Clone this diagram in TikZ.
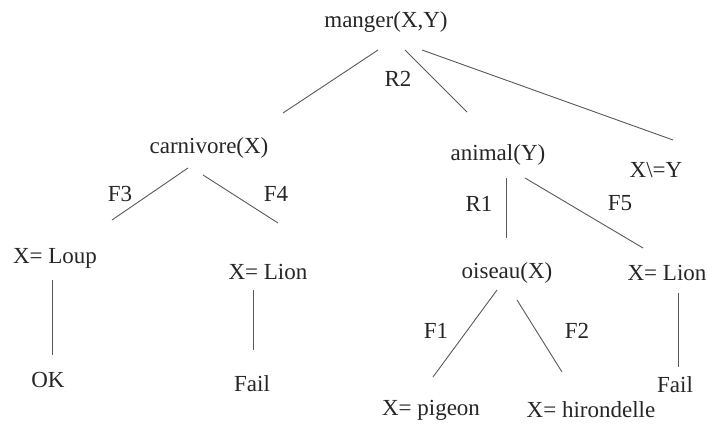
\documentclass[tikz,border=0pt]{standalone}
\usepackage{fontspec}
\setmainfont{Liberation Serif}
\usetikzlibrary{calc}
\begin{document}
\begin{tikzpicture}[x=1pt,y=-1pt,
  lbl/.style={inner sep=0pt,text=black!85,font=\fontsize{23}{26}\selectfont},
  edge/.style={draw=black!65,line width=0.9pt}]
\useasboundingbox[fill=white] (0,0) rectangle (707,427);
% nodes
\node[lbl] (manger) at (386,22) {manger(X,Y)};
\node[lbl] (R2) at (398,79) {R2};
\node[lbl] (carnivore) at (209,148) {carnivore(X)};
\node[lbl] (animal) at (498,155) {animal(Y)};
\node[lbl] (neq) at (656,170) {X\textbackslash=Y};
\node[lbl] (F3) at (120,194) {F3};
\node[lbl] (F4) at (276,194) {F4};
\node[lbl] (loup) at (55,258) {X= Loup};
\node[lbl] (lionL) at (268,272) {X= Lion};
\node[lbl] (ok) at (48,380) {OK};
\node[lbl] (failL) at (252,384) {Fail};
\node[lbl] (R1) at (479,204) {R1};
\node[lbl] (F5) at (620,203) {F5};
\node[lbl] (oiseau) at (507,273) {oiseau(X)};
\node[lbl] (lionR) at (667,273) {X= Lion};
\node[lbl] (F1) at (436,331) {F1};
\node[lbl] (F2) at (577,331) {F2};
\node[lbl] (pigeon) at (431,410) {X= pigeon};
\node[lbl] (hirondelle) at (591,410) {X= hirondelle};
\node[lbl] (failR) at (675,385) {Fail};
% connectors
\draw[edge] ($(manger)+(-8,28)$) -- ($(carnivore)+(74,-35)$);
\draw[edge] ($(manger)+(19,28)$) -- ($(animal)+(-31,-43)$);
\draw[edge] ($(manger)+(36,28)$) -- ($(neq)+(17,-30)$);
\draw[edge] ($(carnivore)+(-21,20)$) -- ($(loup)+(57,-38)$);
\draw[edge] ($(carnivore)+(-6,27)$) -- ($(lionL)+(10,-49)$);
\draw[edge] ($(loup)+(-3,22)$) -- ($(ok)+(4,-25)$);
\draw[edge] ($(lionL)+(-15,18)$) -- ($(failL)+(1,-34)$);
\draw[edge] ($(animal)+(8,23)$) -- ($(oiseau)+(-1,-35)$);
\draw[edge] ($(animal)+(27,23)$) -- ($(lionR)+(-24,-25)$);
\draw[edge] ($(oiseau)+(-10,17)$) -- ($(pigeon)+(2,-33)$);
\draw[edge] ($(oiseau)+(10,27)$) -- ($(hirondelle)+(-29,-38)$);
\draw[edge] ($(lionR)+(11,20)$) -- ($(failR)+(3,-18)$);
\end{tikzpicture}
\end{document}
